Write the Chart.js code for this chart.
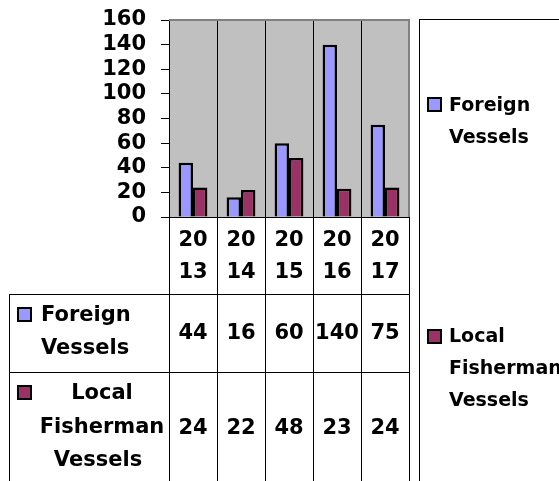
<!DOCTYPE html>
<html>
<head>
<meta charset="utf-8">
<script src="https://cdn.jsdelivr.net/npm/chart.js"></script>
<style>
  html, body { margin: 0; padding: 0; background: #fff; }
</style>
</head>
<body>
<canvas id="chart" width="559" height="481"></canvas>
<script>
const years = ["2013", "2014", "2015", "2016", "2017"];
const foreignVessels = [44, 16, 60, 140, 75];
const localVessels = [24, 22, 48, 23, 24];
const seriesNames = ["Foreign Vessels", "Local Fisherman Vessels"];
const seriesColors = ["#9999FF", "#993366"];

const FONT = "bold 21px 'DejaVu Sans'";
const LEGEND_FONT = "bold 19px 'DejaVu Sans'";

function marker(c, x, y, color) {
  c.fillStyle = color;
  c.fillRect(x, y, 13, 13);
  c.strokeStyle = "#000";
  c.lineWidth = 2;
  c.strokeRect(x, y, 13, 13);
  c.fillStyle = "#000";
}

const tablePlugin = {
  id: "tablePlugin",
  beforeDraw(chart) {
    const { ctx: c, chartArea: a } = chart;
    c.save();
    c.fillStyle = "#C0C0C0";
    c.fillRect(a.left, a.top, a.right - a.left, a.bottom - a.top);
    c.restore();
  },
  afterDraw(chart) {
    const { ctx: c, chartArea: a } = chart;
    const H = chart.height;
    const n = years.length;
    const colW = (a.right - a.left) / n;
    c.save();

    // plot border top/right
    c.strokeStyle = "#808080";
    c.lineWidth = 2;
    c.beginPath();
    c.moveTo(a.left, a.top);
    c.lineTo(a.right, a.top);
    c.lineTo(a.right, a.bottom);
    c.stroke();

    // table lines
    c.strokeStyle = "#000";
    c.lineWidth = 1;
    c.beginPath();
    for (let i = 0; i <= n; i++) {
      const x = Math.round(a.left + i * colW) + 0.5;
      c.moveTo(x, a.bottom);
      c.lineTo(x, H);
    }
    c.moveTo(9.5, 294);
    c.lineTo(9.5, H);
    for (const y of [294, 372]) {
      c.moveTo(9, y + 0.5);
      c.lineTo(a.right, y + 0.5);
    }
    c.stroke();

    c.font = FONT;
    c.fillStyle = "#000";
    c.textAlign = "center";
    c.textBaseline = "middle";
    years.forEach((yr, i) => {
      const cx = a.left + (i + 0.5) * colW;
      c.fillText(yr.slice(0, 2), cx, 241);
      c.fillText(yr.slice(2), cx, 273);
      c.fillText(String(foreignVessels[i]), cx, 334);
      c.fillText(String(localVessels[i]), cx, 429);
    });

    // row headers
    const f = seriesNames[0].split(" ");
    marker(c, 18, 308, seriesColors[0]);
    c.textAlign = "left";
    c.fillText(f[0], 41, 316);
    c.fillText(f[1], 41, 349);
    const l = seriesNames[1].split(" ");
    marker(c, 18, 386, seriesColors[1]);
    c.textAlign = "center";
    c.fillText(l[0], 102, 394);
    c.fillText(l[1], 102, 428);
    c.fillText(l[2], 98, 461);

    // legend box
    c.lineWidth = 1;
    c.strokeRect(419.5, 19.5, 200, 500);
    c.font = LEGEND_FONT;
    c.textAlign = "left";
    marker(c, 428, 98, seriesColors[0]);
    c.fillText(f[0], 449, 106);
    c.fillText(f[1], 449, 138);
    marker(c, 428, 330, seriesColors[1]);
    c.fillText(l[0], 449, 337);
    c.fillText(l[1], 449, 369);
    c.fillText(l[2], 449, 401);
    c.restore();
  }
};

new Chart(document.getElementById("chart"), {
  type: "bar",
  data: {
    labels: years,
    datasets: [
      {
        label: seriesNames[0],
        data: foreignVessels,
        backgroundColor: seriesColors[0],
        borderColor: "#000",
        borderWidth: 2.5,
      },
      {
        label: seriesNames[1],
        data: localVessels,
        backgroundColor: seriesColors[1],
        borderColor: "#000",
        borderWidth: 2.5,
      },
    ],
  },
  options: {
    responsive: false,
    animation: false,
    devicePixelRatio: 1,
    layout: { padding: { top: 20, right: 150, bottom: 0, left: 0 } },
    categoryPercentage: 0.6,
    barPercentage: 1,
    plugins: { legend: { display: false }, tooltip: { enabled: false } },
    scales: {
      x: {
        ticks: { display: false },
        grid: { color: "#000", offset: true, drawTicks: false },
        border: { color: "#000" },
        afterFit: (s) => { s.height = 264; },
      },
      y: {
        min: 0,
        max: 160,
        ticks: {
          stepSize: 20,
          autoSkip: false,
          padding: 15,
          color: "#000",
          font: { family: "DejaVu Sans", size: 21, weight: "bold" },
        },
        grid: { drawOnChartArea: false, color: "#000", tickLength: 8 },
        border: { color: "#000" },
        afterFit: (s) => { s.width = 169; s.paddingTop = 0; s.paddingBottom = 0; },
      },
    },
  },
  plugins: [tablePlugin],
});
</script>
</body>
</html>
